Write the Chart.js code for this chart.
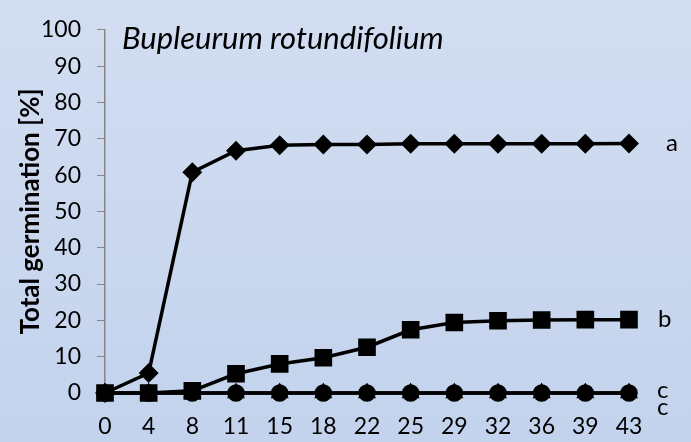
<!DOCTYPE html>
<html>
<head>
<meta charset="utf-8">
<script src="https://cdn.jsdelivr.net/npm/chart.js@4"></script>
<style>
    html, body { margin: 0; padding: 0; }
    body {
        width: 691px;
        height: 442px;
        background: linear-gradient(to bottom, #d2ddf1, #c3d3ed);
        overflow: hidden;
    }
    #wrap { position: relative; width: 691px; height: 442px; }
</style>
</head>
<body>
<div id="wrap"><canvas id="germChart" width="691" height="442"></canvas></div>
<script>
// days after sowing
const days = ['0', '4', '8', '11', '15', '18', '22', '25', '29', '32', '36', '39', '43'];

// total germination [%] per treatment
const seriesA = [0, 5.5, 60.8, 66.7, 68.2, 68.4, 68.4, 68.6, 68.6, 68.6, 68.6, 68.6, 68.7];
const seriesB = [0, 0, 0.6, 5.3, 8.0, 9.7, 12.6, 17.4, 19.4, 19.9, 20.1, 20.2, 20.2];
const seriesC1 = [0, 0, 0, 0, 0, 0, 0, 0, 0, 0, 0, 0, 0];
const seriesC2 = [0, 0, 0, 0, 0, 0, 0, 0, 0, 0, 0, 0, 0];

// letters at the right end of each line, and the value they sit at
const endLetters = ['a', 'b', 'c', 'c'];
const endLetterValues = [68.7, 20.2, 0.7, -3.9];

const yTicks = [0, 10, 20, 30, 40, 50, 60, 70, 80, 90, 100];

const FONT = 'Lato, "Open Sans", sans-serif';

// species name inside the plot + group letters
const annotations = {
    id: 'annotations',
    afterDatasetsDraw(chart) {
        const ctx = chart.ctx;
        const y = chart.scales.y;
        const area = chart.chartArea;
        const xShift = [37, 29, 28, 28];
        ctx.save();
        ctx.fillStyle = '#000';
        ctx.font = 'italic 31px ' + FONT;
        ctx.textAlign = 'left';
        ctx.textBaseline = 'alphabetic';
        ctx.fillText('Bupleurum rotundifolium', 122, 49);

        ctx.font = '24px ' + FONT;
        ctx.textBaseline = 'middle';
        endLetters.forEach((letter, i) => {
            ctx.fillText(letter, area.right + xShift[i], y.getPixelForValue(endLetterValues[i]));
        });
        ctx.restore();
    }
};

const common = {
    borderColor: '#000',
    backgroundColor: '#000',
    pointBackgroundColor: '#000',
    pointBorderColor: '#000',
    borderWidth: 3.5,
    tension: 0,
    clip: false
};

const ctx = document.getElementById('germChart').getContext('2d');

new Chart(ctx, {
    type: 'line',
    data: {
        labels: days,
        datasets: [
            { ...common, label: 'c2', data: seriesC2, pointStyle: 'triangle', pointRadius: 7 },
            { ...common, label: 'c1', data: seriesC1, pointStyle: 'circle', pointRadius: 7 },
            { ...common, label: 'b', data: seriesB, pointStyle: 'rect', pointRadius: 10 },
            { ...common, label: 'a', data: seriesA, pointStyle: 'rectRot', pointRadius: 7.5 }
        ]
    },
    options: {
        responsive: false,
        animation: false,
        layout: {
            padding: { top: 15, right: 62, left: 0, bottom: 0 }
        },
        plugins: {
            legend: { display: false },
            tooltip: { enabled: false }
        },
        scales: {
            x: {
                offset: false,
                grid: { display: false, drawTicks: false },
                border: { display: true, color: '#868686', width: 1 },
                ticks: {
                    color: '#000',
                    padding: 20,
                    maxRotation: 0,
                    autoSkip: false,
                    font: { family: FONT, size: 23 }
                },
                afterFit(scale) { scale.height = 49; }
            },
            y: {
                min: 0,
                max: 100,
                afterBuildTicks(scale) {
                    scale.ticks = yTicks.map(v => ({ value: v }));
                },
                grid: {
                    drawOnChartArea: false,
                    drawTicks: true,
                    tickLength: 8,
                    color: '#868686'
                },
                border: { display: true, color: '#868686', width: 1.5 },
                ticks: {
                    color: '#000',
                    padding: 16,
                    font: { family: FONT, size: 23 }
                },
                title: {
                    display: true,
                    text: 'Total germination [%]',
                    color: '#000',
                    font: { family: FONT, size: 26, weight: 'bold' },
                    padding: { top: 15, bottom: 0 }
                },
                afterFit(scale) { scale.width = 105; }
            }
        }
    },
    plugins: [annotations]
});
</script>
</body>
</html>
